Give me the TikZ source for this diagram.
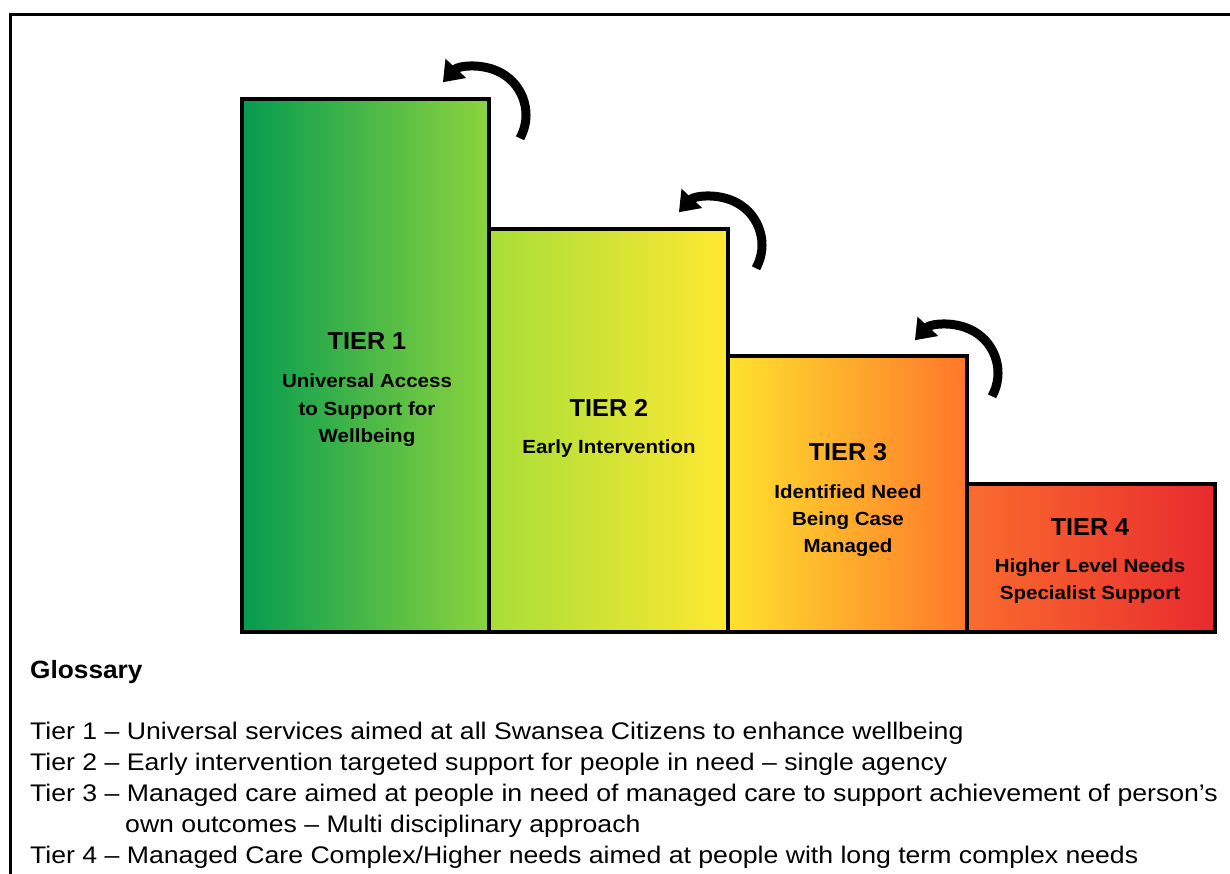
\documentclass[tikz,border=0pt]{standalone}
\usepackage{fontspec}
\setmainfont{Liberation Sans}
\newfontfamily\titlefont[FakeStretch=1.03]{Liberation Sans}
\newfontfamily\subfont[FakeStretch=1.08]{Liberation Sans}
\newfontfamily\headfont[FakeStretch=1.05]{Liberation Sans}
\newfontfamily\glossfont[FakeStretch=1.11]{Liberation Sans}
\usetikzlibrary{arrows.meta,calc}
\definecolor{gA}{RGB}{5,155,80}
\definecolor{gB}{RGB}{140,212,62}
\definecolor{lA}{RGB}{168,222,56}
\definecolor{lB}{RGB}{255,232,50}
\definecolor{yA}{RGB}{255,226,46}
\definecolor{yB}{RGB}{255,118,42}
\definecolor{oA}{RGB}{250,108,46}
\definecolor{oB}{RGB}{232,42,46}
\begin{document}
\begin{tikzpicture}[x=1pt,y=1pt,
  tierbox/.style={draw=black, line width=3.5pt, inner sep=0pt, outer sep=0pt, anchor=south west},
  tiertitle/.style={font=\titlefont\fontsize{24.5}{28}\selectfont\bfseries, inner sep=0pt, text height=0.72em, text depth=0pt},
  tiersub/.style={font=\subfont\fontsize{19}{22}\selectfont\bfseries, inner sep=0pt, text height=0.72em, text depth=0pt},
  glosshead/.style={font=\headfont\fontsize{25}{30}\selectfont\bfseries, inner sep=0pt, anchor=west, text height=0.72em, text depth=0pt},
  glossline/.style={font=\glossfont\fontsize{24}{28}\selectfont, inner sep=0pt, anchor=west, text height=0.6em, text depth=0pt},
  curvy/.style={line width=9pt, -{Triangle[length=19pt,width=27pt]}}
]
\useasboundingbox (0,0) rectangle (1230,874);
\fill[white] (0,0) rectangle (1230,874);
% frame
\draw[line width=3pt] (10.5,0) -- (10.5,859.5) -- (1230,859.5);

% tier boxes
\node[tierbox, left color=gA, right color=gB, minimum width=247pt, minimum height=533pt] (b1) at (242,242) {};
\node[tierbox, left color=lA, right color=lB, minimum width=239pt, minimum height=403pt] (b2) at (489,242) {};
\node[tierbox, left color=yA, right color=yB, minimum width=239pt, minimum height=276pt] (b3) at (728,242) {};
\node[tierbox, left color=oA, right color=oB, minimum width=248pt, minimum height=148pt] (b4) at (967,242) {};

% box texts
\node[tiertitle] (t1) at (367,528.5) {TIER 1};
\node[tiersub] (s1a) at (367,490.5) {Universal Access};
\node[tiersub] (s1b) at (367,462.5) {to Support for};
\node[tiersub] (s1c) at (367,435.5) {Wellbeing};

\node[tiertitle] (t2) at (609,461.5) {TIER 2};
\node[tiersub] (s2a) at (609,424.5) {Early Intervention};

\node[tiertitle] (t3) at (848,417.5) {TIER 3};
\node[tiersub] (s3a) at (848,379.5) {Identified Need};
\node[tiersub] (s3b) at (848,352.5) {Being Case};
\node[tiersub] (s3c) at (848,325.5) {Managed};

\node[tiertitle] (t4) at (1090,342.5) {TIER 4};
\node[tiersub] (s4a) at (1090,305.5) {Higher Level Needs};
\node[tiersub] (s4b) at (1090,278.5) {Specialist Support};

% curved arrows
\coordinate (c1) at (478,759);
\coordinate (c2) at (714,629);
\coordinate (c3) at (950,501);
\foreach \c in {c1,c2,c3}{
  \draw[curvy] ($(\c)+(-29:48)$) arc[start angle=-29, end angle=137, radius=48pt];
}

% glossary
\node[glosshead] (gh) at (30,199) {Glossary};
\node[glossline] (g1) at (30,137) {Tier 1 – Universal services aimed at all Swansea Citizens to enhance wellbeing};
\node[glossline] (g2) at (30,106) {Tier 2 – Early intervention targeted support for people in need – single agency};
\node[glossline] (g3) at (30,75) {Tier 3 – Managed care aimed at people in need of managed care to support achievement of person’s};
\node[glossline] (g3b) at (125,44) {own outcomes – Multi disciplinary approach};
\node[glossline] (g4) at (30,13) {Tier 4 – Managed Care Complex/Higher needs aimed at people with long term complex needs};
\end{tikzpicture}
\end{document}
